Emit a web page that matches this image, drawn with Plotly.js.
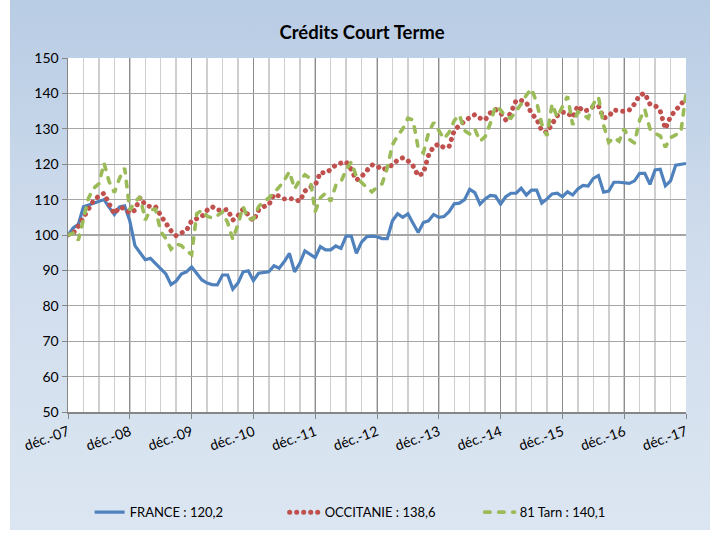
<!DOCTYPE html>
<html>
<head>
<meta charset="utf-8">
<script src="https://cdn.plot.ly/plotly-3.0.1.min.js"></script>
<style>
  html, body { margin: 0; padding: 0; background: #ffffff; }
  #frame { position: absolute; left: 10px; top: 0px; width: 700px; height: 530px;
           background: linear-gradient(to bottom, #b8cce4 0%, #cfdcec 45%, #dce6f2 100%); }
  #chart { position: absolute; left: 0; top: 0; width: 717px; height: 540px; }
  path[style*="stroke-dasharray"] { stroke-linecap: round; }
</style>
</head>
<body>
<div id="frame"></div>
<div id="chart"></div>
<script>
// x tick labels (one per December)
const tickLabels = ['déc.-07','déc.-08','déc.-09','déc.-10','déc.-11','déc.-12','déc.-13','déc.-14','déc.-15','déc.-16','déc.-17'];

// monthly indices, Dec 2007 .. Dec 2017 (index 100 = Dec 2007)
const france = [
  100,102,103,108,108.5,109,109.5,110,107.8,105.8,107.9,108.2,
  104,97,95,93,93.4,92,90.5,89,86,87,89,89.6,
  91,89.2,87.3,86.4,86,85.9,88.7,88.7,84.7,86.4,89.6,89.9,
  87.1,89.2,89.4,89.6,91.3,90.6,92.5,94.8,89.6,92,95.5,94.5,
  93.6,96.7,95.8,95.8,96.9,96.2,99.7,99.7,94.8,98,99.5,99.7,
  99.5,99,99,104,106,105,106,103.3,100.7,103.5,104,105.8,
  105,105.2,106.6,108.8,109,110,112.9,112,108.7,110.2,111.2,111,
  108.7,110.8,111.8,111.8,113.2,111.3,112.7,112.7,109,110.2,111.6,111.8,
  110.8,112.2,111.3,113,114,113.8,116,116.8,112.1,112.4,114.9,114.9,
  114.8,114.6,115.3,117.4,117.4,114.3,118.4,118.6,113.9,115.3,119.7,120,
  120.2
];

const occitanie = [
  100,100.5,102.5,105,107,109.8,111,111.8,108.8,106,107.8,107.5,
  106.2,107,110.6,108.5,108,108,105.5,103,101.2,99.8,100.5,101.3,
  104,104.6,105.2,107,108,107,107.2,107.2,104.2,105.4,107.3,105.5,
  104,107,108,108.5,111.5,111,110.2,110.3,110.2,109.5,112.4,113.5,
  114,117.7,117.5,118.5,119.8,120.3,120.7,118.5,115.5,116.5,118,119.8,
  119.5,118.4,119,119.8,121.2,121.8,121,119.5,116.7,117.5,122.5,125,
  125.7,124.7,125,129.5,131,132.3,133.2,134,133,132.5,134.5,135.5,
  134.5,132.5,134.5,138,138,137.5,134.3,132.8,129.4,129,131.5,133.7,
  134.7,134.5,133.2,136.5,135,135.3,136.3,136.5,133,133.5,135.3,135,
  134.9,135.3,137,139.5,140,137,136.6,135,130,133.5,135.2,136.8,
  138.6
];

const tarn = [
  100,100.5,98.5,104.5,110.5,113.2,114.5,120.3,115,112,116,118.9,
  107,109.4,110.8,104.2,107.1,107.3,101,99,96,97.5,97,95.5,
  94.5,106,107,105.3,104.8,105.5,106.5,103.5,98.8,103,108,104.5,
  104.5,108,109.5,110.5,112,113.5,115.5,117.9,113,115.5,117,116,
  106.6,110.5,111.8,109.5,114,115,118.5,120.6,116.5,114.8,113.5,112.2,
  113.5,114.5,119,125.5,128,130,133,132.5,124.5,123.2,128.8,131.8,
  129.5,127.2,129,132.3,133.9,129.5,128.5,129.9,126.5,127.8,131.5,136.5,
  135.3,133.3,133,134.8,137,139.5,141.3,137.5,131.3,128,137,133.3,
  136,139.2,131.1,134.8,134,133,137,139,131,126.2,127.5,126.5,
  130,127,126,132.5,135.5,130,128.7,128,124.8,127.5,128.3,129,
  140.1
];

const seriesNames = ['FRANCE : 120,2', 'OCCITANIE : 138,6', '81 Tarn : 140,1'];

const months = france.map((_, i) => i);
const tickVals = tickLabels.map((_, i) => i * 12);

const traces = [
  { x: months, y: france, name: seriesNames[0], type: 'scatter', mode: 'lines',
    line: { color: '#4f81bd', width: 3.2 } },
  { x: months, y: occitanie, name: seriesNames[1], type: 'scatter', mode: 'lines',
    line: { color: '#c0504d', width: 5, dash: '0.1px,6.9px' } },
  { x: months, y: tarn, name: seriesNames[2], type: 'scatter', mode: 'lines',
    line: { color: '#9bbb59', width: 3.6, dash: '5.5px,8.5px' } }
];

const fontFam = 'Lato, "Open Sans", "Liberation Sans", sans-serif';

const layout = {
  width: 717, height: 540,
  margin: { l: 68, r: 31, t: 58, b: 128 },
  paper_bgcolor: 'rgba(0,0,0,0)',
  plot_bgcolor: '#ffffff',
  font: { family: fontFam, size: 14, color: '#000000' },
  title: { text: '<b>Crédits Court Terme</b>', x: 0.505, xanchor: 'center', y: 0.94, yanchor: 'middle',
           font: { family: fontFam, size: 18.5, color: '#000000' } },
  showlegend: true,
  legend: { orientation: 'h', x: 0.035, xanchor: 'left', y: -0.283, yanchor: 'middle',
            bgcolor: 'rgba(0,0,0,0)', font: { family: fontFam, size: 13, color: '#000000' },
            entrywidth: 150, entrywidthmode: 'pixels', traceorder: 'normal' },
  xaxis: {
    range: [0, 120], tickmode: 'array', tickvals: tickVals, ticktext: tickLabels,
    tickangle: -20, ticks: 'outside', ticklen: 5, tickcolor: '#868686',
    showgrid: true, gridcolor: '#8c8c8c', gridwidth: 1,
    minor: { tickmode: 'linear', tick0: 0, dtick: 3, showgrid: true, gridcolor: '#cfcfcf', gridwidth: 1.5, ticks: '' },
    showline: true, linecolor: '#868686', linewidth: 1.5,
    zeroline: false, fixedrange: true,
    tickfont: { family: fontFam, size: 14, color: '#000000' }
  },
  yaxis: {
    range: [50, 150], dtick: 10, tick0: 50,
    ticks: 'outside', ticklen: 5, tickcolor: '#868686',
    showgrid: true, gridcolor: '#a6a6a6', gridwidth: 1.3,
    showline: true, linecolor: '#868686', linewidth: 1.5,
    zeroline: false, fixedrange: true,
    tickfont: { family: fontFam, size: 14, color: '#000000' }
  },
  hovermode: false
};

Plotly.newPlot('chart', traces, layout, { displayModeBar: false, staticPlot: true });
</script>
</body>
</html>
